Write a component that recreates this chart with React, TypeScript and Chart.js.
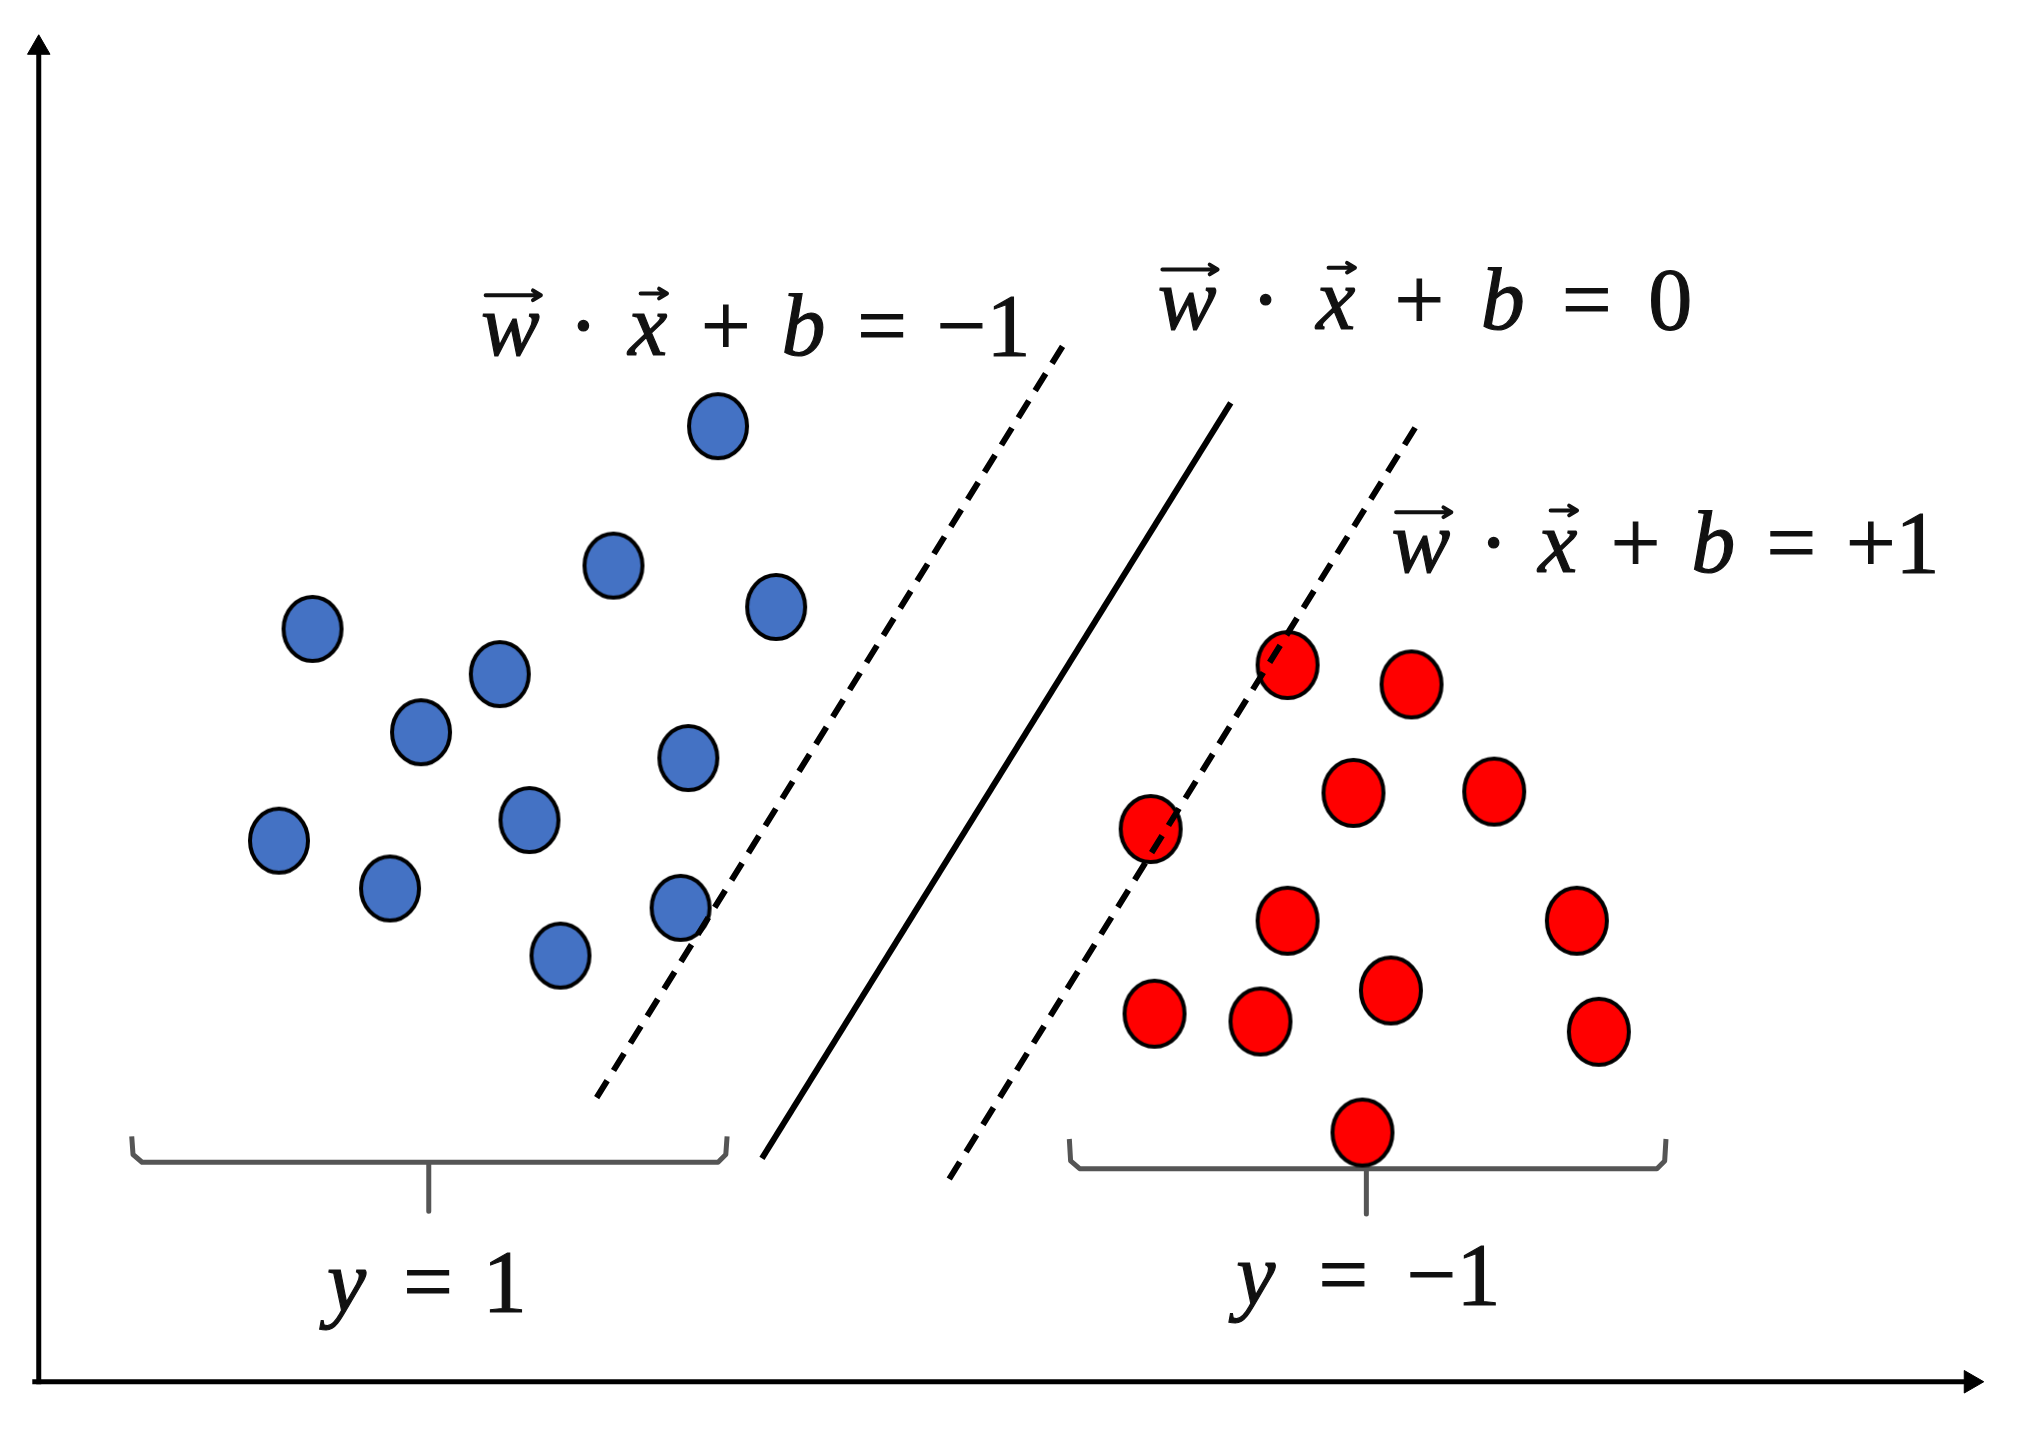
import React, { useEffect, useRef } from 'react';
import { Chart, registerables } from 'chart.js';

Chart.register(...registerables);

// ---- data (units: arbitrary feature space, origin at axes corner) ----
const blueX = [5.26, 4.45, 5.71, 2.12, 3.57, 2.96, 5.03, 1.86, 3.80, 2.72, 4.97, 4.04];
const blueY = [7.40, 6.32, 6.00, 5.83, 5.48, 5.03, 4.83, 4.19, 4.35, 3.82, 3.67, 3.30];
const redX = [9.67, 10.63, 10.18, 11.27, 8.61, 9.67, 11.91, 10.47, 8.64, 9.46, 12.08, 10.25];
const redY = [5.55, 5.40, 4.56, 4.57, 4.28, 3.57, 3.57, 3.03, 2.85, 2.79, 2.71, 1.93];

const marginMinusX = [4.32, 7.96];
const marginMinusY = [2.20, 8.07];
const boundaryX = [5.60, 9.23];
const boundaryY = [1.73, 7.58];
const marginPlusX = [7.05, 10.69];
const marginPlusY = [1.57, 7.44];

const bracketLeftX = [0.72, 0.73, 0.80, 3.02, 3.02, 3.02, 5.26, 5.32, 5.33];
const bracketLeftY = [1.90, 1.76, 1.70, 1.70, 1.32, 1.70, 1.70, 1.76, 1.90];
const bracketRightX = [7.98, 7.99, 8.06, 10.28, 10.28, 10.28, 12.53, 12.59, 12.60];
const bracketRightY = [1.88, 1.71, 1.65, 1.65, 1.30, 1.65, 1.65, 1.71, 1.88];

const axisHX = [-0.05, 14.96];
const axisHY = [0, 0];
const axisVX = [0, 0];
const axisVY = [-0.02, 10.33];

// equation labels: tokens (U+20D7 marks a vector arrow)
const labelTokens = [
  ['w\u20D7', '·', 'x\u20D7', '+', 'b', '=', '−1'],
  ['w\u20D7', '·', 'x\u20D7', '+', 'b', '=', '0'],
  ['w\u20D7', '·', 'x\u20D7', '+', 'b', '=', '+1'],
  ['y', '=', '1'],
  ['y', '=', '−1'],
];
const labelLeft = [3.44, 8.68, 10.49, 2.17, 9.21];
const labelRight = [7.64, 12.78, 14.68, 3.74, 11.28];
const labelBase = [7.95, 8.15, 6.27, 0.55, 0.60];

const X_MIN = -0.30, X_MAX = 15.38, Y_MIN = -0.42, Y_MAX = 10.70;
const FONT_SIZE = 88;
const TEXT_COLOR = '#111111';

const pts = (xs: number[], ys: number[]) => xs.map((x, i) => ({ x, y: ys[i] }));

function ellipseSprite(fill: string, rx: number, ry: number, lw: number) {
  const c = document.createElement('canvas');
  c.width = Math.round(rx * 2 + 2);
  c.height = Math.round(ry * 2 + 2);
  const g = c.getContext('2d')!;
  g.beginPath();
  g.ellipse(c.width / 2, c.height / 2, rx - lw / 2, ry - lw / 2, 0, 0, Math.PI * 2);
  g.fillStyle = fill;
  g.fill();
  g.lineWidth = lw;
  g.strokeStyle = '#000';
  g.stroke();
  return c;
}

function drawVec(ctx: CanvasRenderingContext2D, x0: number, x1: number, y: number, fs: number) {
  ctx.save();
  ctx.strokeStyle = TEXT_COLOR;
  ctx.lineWidth = fs * 0.045;
  ctx.lineCap = 'round';
  ctx.lineJoin = 'round';
  ctx.beginPath();
  ctx.moveTo(x0, y);
  ctx.lineTo(x1, y);
  ctx.moveTo(x1 - fs * 0.09, y - fs * 0.055);
  ctx.lineTo(x1, y);
  ctx.lineTo(x1 - fs * 0.09, y + fs * 0.055);
  ctx.stroke();
  ctx.restore();
}

function drawMath(ctx: CanvasRenderingContext2D, tokens: string[], left: number, right: number, base: number, fs: number) {
  ctx.save();
  const parsed = tokens.map((t) => {
    const vec = t.endsWith('\u20D7');
    const s = vec ? t.slice(0, -1) : t;
    const italic = /^[a-z]$/.test(s);
    const font = `${italic ? 'italic ' : ''}${fs}px "Liberation Serif"`;
    ctx.font = font;
    const m = ctx.measureText(s);
    const inkL = m.actualBoundingBoxLeft;
    const w = m.actualBoundingBoxLeft + m.actualBoundingBoxRight;
    return { s, vec, font, w, inkL };
  });
  const total = parsed.reduce((a, p) => a + p.w, 0);
  const gap = (right - left - total) / (parsed.length - 1);
  ctx.fillStyle = TEXT_COLOR;
  ctx.strokeStyle = TEXT_COLOR;
  ctx.lineWidth = 1.2;
  ctx.textAlign = 'left';
  ctx.textBaseline = 'alphabetic';
  let x = left;
  parsed.forEach((p) => {
    ctx.font = p.font;
    ctx.fillText(p.s, x + p.inkL, base);
    ctx.strokeText(p.s, x + p.inkL, base);
    if (p.vec) {
      if (p.s === 'w') {
        drawVec(ctx, x + fs * 0.03, x + p.w + fs * 0.01, base - fs * 0.68, fs);
      } else {
        const cx = x + p.w / 2 + fs * 0.07;
        drawVec(ctx, cx - fs * 0.14, cx + fs * 0.16, base - fs * 0.7, fs);
      }
    }
    x += p.w + gap;
  });
  ctx.restore();
}

const mathPlugin = {
  id: 'mathLabels',
  afterDatasetsDraw(chart: any) {
    const ctx = chart.ctx as CanvasRenderingContext2D;
    const xs = chart.scales.x;
    const ys = chart.scales.y;
    labelTokens.forEach((tokens, k) => {
      drawMath(
        ctx,
        tokens,
        xs.getPixelForValue(labelLeft[k]),
        xs.getPixelForValue(labelRight[k]),
        ys.getPixelForValue(labelBase[k]),
        FONT_SIZE,
      );
    });
  },
};

export default function App() {
  const ref = useRef<HTMLCanvasElement>(null);
  useEffect(() => {
    if (!ref.current) return;
    const blueSprite = ellipseSprite('#4472C4', 31, 34, 4);
    const redSprite = ellipseSprite('#FF0000', 32, 35, 4);
    const lineBase = { showLine: true, pointRadius: 0, borderColor: '#000', borderWidth: 6, clip: false, tension: 0, fill: false };
    const chart = new Chart(ref.current, {
      type: 'scatter',
      data: {
        datasets: [
          { ...lineBase, label: 'w·x+b=-1', data: pts(marginMinusX, marginMinusY), borderDash: [20, 12] },
          { ...lineBase, label: 'w·x+b=0', data: pts(boundaryX, boundaryY) },
          { ...lineBase, label: 'w·x+b=+1', data: pts(marginPlusX, marginPlusY), borderDash: [20, 12] },
          { label: 'y=1', data: pts(blueX, blueY), pointStyle: blueSprite as any, pointRadius: 30, clip: false },
          { label: 'y=-1', data: pts(redX, redY), pointStyle: redSprite as any, pointRadius: 30, clip: false },
          { ...lineBase, label: 'brace1', data: pts(bracketLeftX, bracketLeftY), borderColor: '#555555', borderWidth: 5, borderJoinStyle: 'round' },
          { ...lineBase, label: 'brace2', data: pts(bracketRightX, bracketRightY), borderColor: '#555555', borderWidth: 5, borderJoinStyle: 'round' },
          {
            ...lineBase, label: 'x-axis', data: pts(axisHX, axisHY), borderWidth: 5,
            pointRadius: [0, 13], pointStyle: 'triangle', rotation: [0, 90],
            pointBackgroundColor: '#000', pointBorderColor: '#000', pointBorderWidth: 1,
          },
          {
            ...lineBase, label: 'y-axis', data: pts(axisVX, axisVY), borderWidth: 5,
            pointRadius: [0, 13], pointStyle: 'triangle', rotation: [0, 0],
            pointBackgroundColor: '#000', pointBorderColor: '#000', pointBorderWidth: 1,
          },
        ] as any,
      },
      options: {
        responsive: false,
        devicePixelRatio: 1,
        animation: false,
        events: [],
        layout: { padding: 0, autoPadding: false },
        plugins: { legend: { display: false }, tooltip: { enabled: false } },
        scales: {
          x: { type: 'linear', min: X_MIN, max: X_MAX, display: false },
          y: { type: 'linear', min: Y_MIN, max: Y_MAX, display: false },
        },
      },
      plugins: [mathPlugin],
    });
    return () => chart.destroy();
  }, []);
  return (
    <div style={{ position: 'absolute', left: 0, top: 0, width: 2025, height: 1436, background: '#fff' }}>
      <canvas ref={ref} width={2025} height={1436} style={{ display: 'block' }} />
    </div>
  );
}
